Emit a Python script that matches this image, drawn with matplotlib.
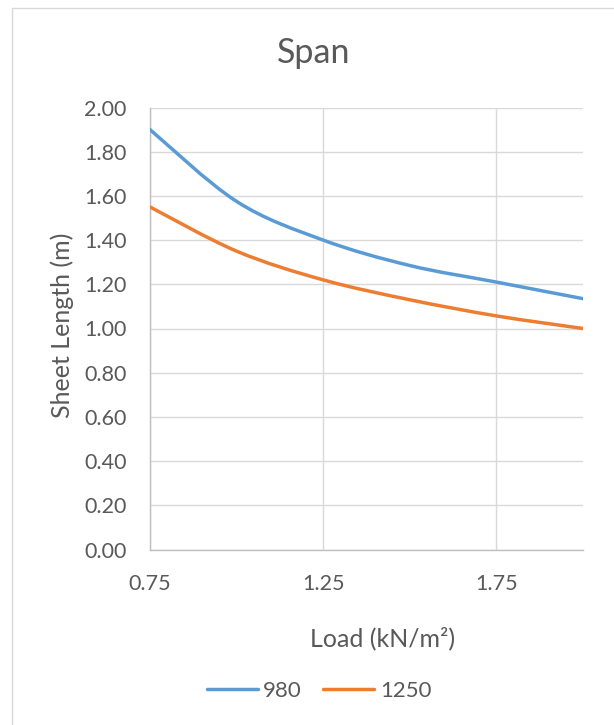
import numpy as np
import matplotlib
matplotlib.use("Agg")
import matplotlib.pyplot as plt
from matplotlib.path import Path
from matplotlib.patches import PathPatch, Rectangle
from matplotlib.lines import Line2D

# ---- data ----
load = [0.75, 1.00, 1.25, 1.50, 1.75, 2.00]
len_980 = [1.90, 1.575, 1.40, 1.285, 1.21, 1.135]
len_1250 = [1.55, 1.35, 1.22, 1.13, 1.057, 1.00]
series_names = ["980", "1250"]
series_colors = ["#5B9BD5", "#ED7D31"]
x_ticks = [0.75, 1.25, 1.75]
y_ticks = [0.0, 0.2, 0.4, 0.6, 0.8, 1.0, 1.2, 1.4, 1.6, 1.8, 2.0]

plt.rcParams['font.family'] = ['Lato', 'DejaVu Sans']
TXT = "#595959"

fig = plt.figure(figsize=(6.14, 7.25), dpi=100)
fig.patch.set_facecolor("white")
# chart border (only top/left visible in the crop)
fig.patches.append(Rectangle((11.5/614, -0.1), 1.2, 1.1 - 8/725,
                             transform=fig.transFigure, fill=False,
                             edgecolor="#d9d9d9", linewidth=1.0))

ax = fig.add_axes([150/614, 1 - 549.5/725, (583-150)/614, (549.5-107.5)/725])
ax.set_xlim(0.75, 2.0)
ax.set_ylim(0, 2.0)


def smooth_path(xs, ys):
    xs = np.asarray(xs, float)
    ys = np.asarray(ys, float)
    n = len(xs)
    verts = [(xs[0], ys[0])]
    codes = [Path.MOVETO]
    for i in range(n - 1):
        p0 = np.array([xs[max(i-1, 0)], ys[max(i-1, 0)]])
        p1 = np.array([xs[i], ys[i]])
        p2 = np.array([xs[i+1], ys[i+1]])
        p3 = np.array([xs[min(i+2, n-1)], ys[min(i+2, n-1)]])
        c1 = p1 + (p2 - p0) / 6.0
        c2 = p2 - (p3 - p1) / 6.0
        verts += [tuple(c1), tuple(c2), tuple(p2)]
        codes += [Path.CURVE4] * 3
    return Path(verts, codes)


handles = []
for vals, name, col in zip([len_980, len_1250], series_names, series_colors):
    patch = PathPatch(smooth_path(load, vals), facecolor="none", edgecolor=col,
                      linewidth=2.5, capstyle="round", transform=ax.transData,
                      zorder=3)
    ax.add_patch(patch)
    handles.append(Line2D([], [], color=col, linewidth=2.5, label=name,
                          solid_capstyle="round"))

ax.set_xticks(x_ticks)
ax.set_xticklabels([f"{v:.2f}" for v in x_ticks])
ax.set_yticks(y_ticks)
ax.set_yticklabels([f"{v:.2f}" for v in y_ticks])
ax.grid(True, color="#d9d9d9", linewidth=1.0)
ax.set_axisbelow(True)
for s in ["top", "right"]:
    ax.spines[s].set_visible(False)
for s in ["left", "bottom"]:
    ax.spines[s].set_color("#bfbfbf")
    ax.spines[s].set_linewidth(1.0)
ax.tick_params(axis="both", length=0, labelsize=15.5, labelcolor=TXT)
ax.tick_params(axis="y", pad=17)
ax.tick_params(axis="x", pad=18)

fig.text(314/614, 1 - 53/725, "Span", ha="center", va="center",
         fontsize=24.5, color=TXT)
fig.text(62/614, 1 - 325/725, "Sheet Length (m)", ha="center", va="center",
         rotation=90, fontsize=18, color=TXT)
fig.text(383/614, 1 - 638/725, "Load (kN/m²)", ha="center", va="center",
         fontsize=18, color=TXT)

leg = fig.legend(handles=handles, loc="center", bbox_to_anchor=(319/614, 1 - 691/725),
                 ncol=2, frameon=False, fontsize=16, handlelength=2.3,
                 handletextpad=0.25, columnspacing=0.95)
for t in leg.get_texts():
    t.set_color(TXT)

fig.savefig("out.png", dpi=100, facecolor="white")
